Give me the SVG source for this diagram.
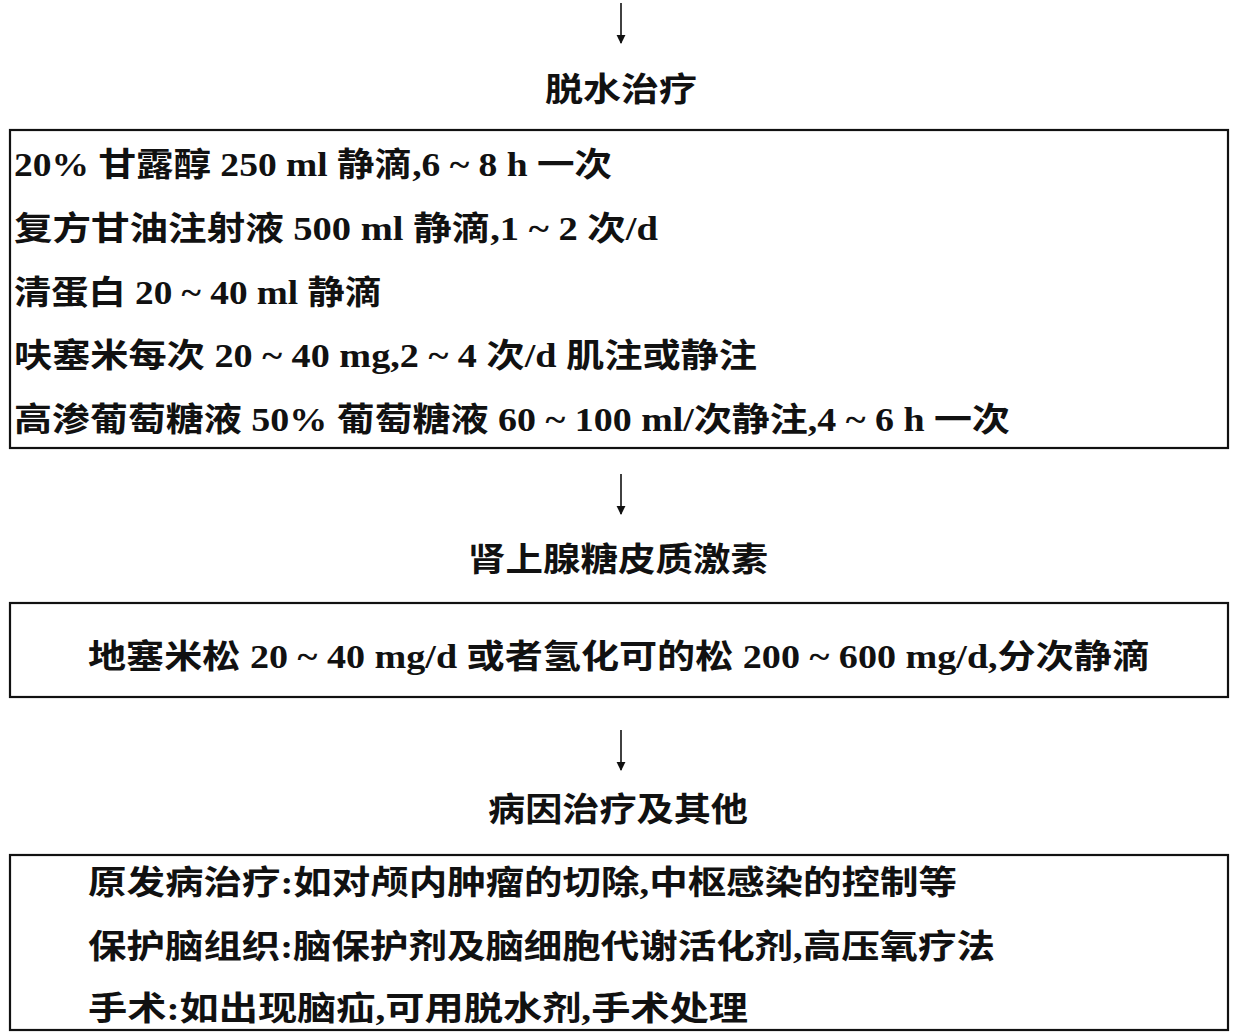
<svg xmlns="http://www.w3.org/2000/svg" width="1236" height="1035" viewBox="0 0 1236 1035">
<style>
text{font-family:"Liberation Serif","Noto Sans CJK SC",serif;font-size:33px;fill:#111;font-weight:bold}
.box{fill:#fff;stroke:#111;stroke-width:2.2}
.arr{stroke:#111;stroke-width:1.6;fill:none}
.c{text-anchor:middle}
</style>
<defs>
<marker id="ah" viewBox="0 0 10 10" refX="9" refY="5" markerWidth="9" markerHeight="12" markerUnits="userSpaceOnUse" orient="auto">
<path d="M0,0 L10,5 L0,10 z" fill="#111"/>
</marker>
</defs>
<rect width="1236" height="1035" fill="#fff"/>
<g id="connectors">
<line class="arr" x1="621" y1="3" x2="621" y2="43" marker-end="url(#ah)"/>
<line class="arr" x1="621" y1="474" x2="621" y2="514" marker-end="url(#ah)"/>
<line class="arr" x1="621" y1="730" x2="621" y2="770" marker-end="url(#ah)"/>
</g>
<g id="title1"><text class="c" x="621" y="101" textLength="152" lengthAdjust="spacingAndGlyphs">脱水治疗</text></g>
<g id="box1">
<rect class="box" x="10" y="130" width="1218" height="318"/>
<text x="14" y="176" textLength="598" lengthAdjust="spacingAndGlyphs">20% 甘露醇 250 ml 静滴,6 ~ 8 h 一次</text>
<text x="14" y="240" textLength="644" lengthAdjust="spacingAndGlyphs">复方甘油注射液 500 ml 静滴,1 ~ 2 次/d</text>
<text x="14" y="304" textLength="368" lengthAdjust="spacingAndGlyphs">清蛋白 20 ~ 40 ml 静滴</text>
<text x="14" y="367" textLength="743" lengthAdjust="spacingAndGlyphs">呋塞米每次 20 ~ 40 mg,2 ~ 4 次/d 肌注或静注</text>
<text x="14" y="431" textLength="996" lengthAdjust="spacingAndGlyphs">高渗葡萄糖液 50% 葡萄糖液 60 ~ 100 ml/次静注,4 ~ 6 h 一次</text>
</g>
<g id="title2"><text class="c" x="618" y="571" textLength="300" lengthAdjust="spacingAndGlyphs">肾上腺糖皮质激素</text></g>
<g id="box2">
<rect class="box" x="10" y="603" width="1218" height="94"/>
<text x="88" y="668" textLength="1062" lengthAdjust="spacingAndGlyphs">地塞米松 20 ~ 40 mg/d 或者氢化可的松 200 ~ 600 mg/d,分次静滴</text>
</g>
<g id="title3"><text class="c" x="618" y="821" textLength="260" lengthAdjust="spacingAndGlyphs">病因治疗及其他</text></g>
<g id="box3">
<rect class="box" x="10" y="855" width="1218" height="175"/>
<text x="88" y="894" textLength="869" lengthAdjust="spacingAndGlyphs">原发病治疗:如对颅内肿瘤的切除,中枢感染的控制等</text>
<text x="88" y="958" textLength="907" lengthAdjust="spacingAndGlyphs">保护脑组织:脑保护剂及脑细胞代谢活化剂,高压氧疗法</text>
<text x="88" y="1020" textLength="660" lengthAdjust="spacingAndGlyphs">手术:如出现脑疝,可用脱水剂,手术处理</text>
</g>
</svg>
